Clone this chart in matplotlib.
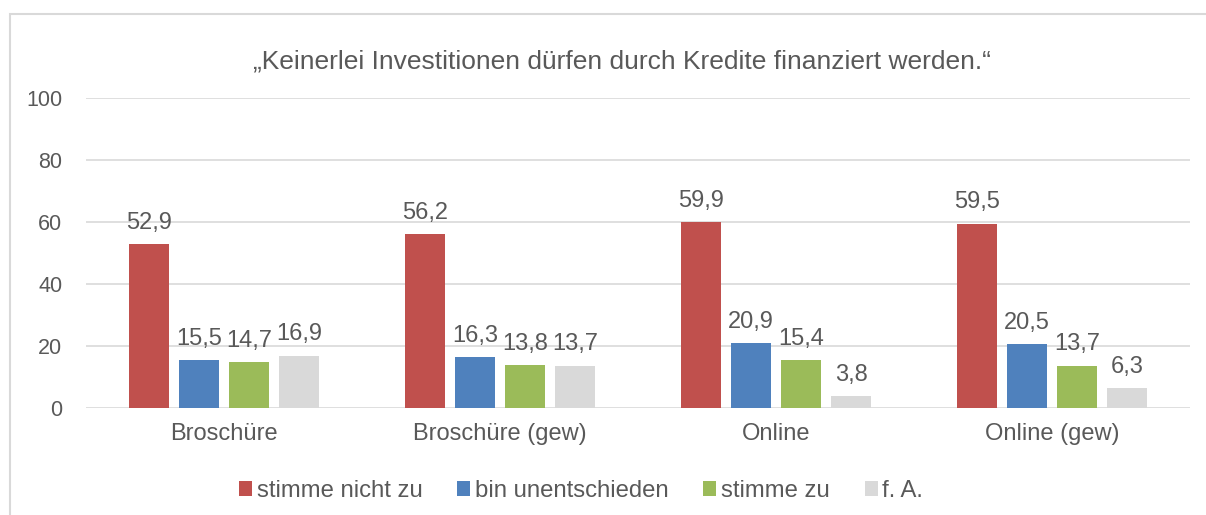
import matplotlib
matplotlib.use("Agg")
import matplotlib.pyplot as plt
from matplotlib.patches import Rectangle
import numpy as np

categories = ["Broschüre", "Broschüre (gew)", "Online", "Online (gew)"]
series_names = ["stimme nicht zu", "bin unentschieden", "stimme zu", "f. A."]
stimme_nicht_zu = [52.9, 56.2, 59.9, 59.5]
bin_unentschieden = [15.5, 16.3, 20.9, 20.5]
stimme_zu = [14.7, 13.8, 15.4, 13.7]
f_a = [16.9, 13.7, 3.8, 6.3]
yticks = [0, 20, 40, 60, 80, 100]
title = "„Keinerlei Investitionen dürfen durch Kredite finanziert werden.“"

series = [stimme_nicht_zu, bin_unentschieden, stimme_zu, f_a]
colors = ["#C0504D", "#4F81BD", "#9BBB59", "#D9D9D9"]
txt = "#595959"

plt.rcParams["font.family"] = ["Liberation Sans", "DejaVu Sans"]

W, H = 1206, 515
fig = plt.figure(figsize=(W / 100, H / 100), dpi=100)
fig.patches.append(Rectangle((10 / W, -0.01), 1.0, 1 - 14 / H + 0.01,
                             transform=fig.transFigure, fill=False,
                             edgecolor="#D9D9D9", linewidth=1.5))

ax = fig.add_axes([86 / W, 1 - 408 / H, (1190 - 86) / W, (408 - 98) / H])
ax.set_xlim(-0.5, len(categories) - 0.5)
ax.set_ylim(0, 100)
ax.set_yticks(yticks)
ax.set_yticklabels([str(t) for t in yticks], color=txt, fontsize=15.5)
ax.grid(axis="y", color="#D9D9D9", linewidth=1.2)
ax.set_axisbelow(True)
for s in ax.spines.values():
    s.set_visible(False)
ax.tick_params(axis="both", length=0)
ax.tick_params(axis="y", pad=17)
ax.tick_params(axis="x", pad=11)

x = np.arange(len(categories))
step = 50 / 276
width = 40 / 276
for i, (vals, col, name) in enumerate(zip(series, colors, series_names)):
    pos = x + (i - 1.5) * step
    bars = ax.bar(pos, vals, width=width, color=col, label=name, zorder=2)
    for b, v in zip(bars, vals):
        ax.annotate(str(v).replace(".", ","), (b.get_x() + b.get_width() / 2, v),
                    xytext=(0, 11), textcoords="offset points", ha="center",
                    va="baseline", fontsize=17, color=txt)

ax.set_xticks(x)
ax.set_xticklabels(categories, fontsize=17, color=txt)

fig.text(0.5 * (250 + 993) / W, 1 - 62 / H, title, ha="center", va="center",
         fontsize=19, color=txt)

leg = fig.legend(loc="center", bbox_to_anchor=(581 / W, 1 - 491 / H),
                 ncol=4, frameon=False, fontsize=17.2, handlelength=0.55,
                 handleheight=0.55, handletextpad=0.2, columnspacing=1.45,
                 labelcolor=txt, borderaxespad=0, borderpad=0)

fig.savefig("out.png", dpi=100)
